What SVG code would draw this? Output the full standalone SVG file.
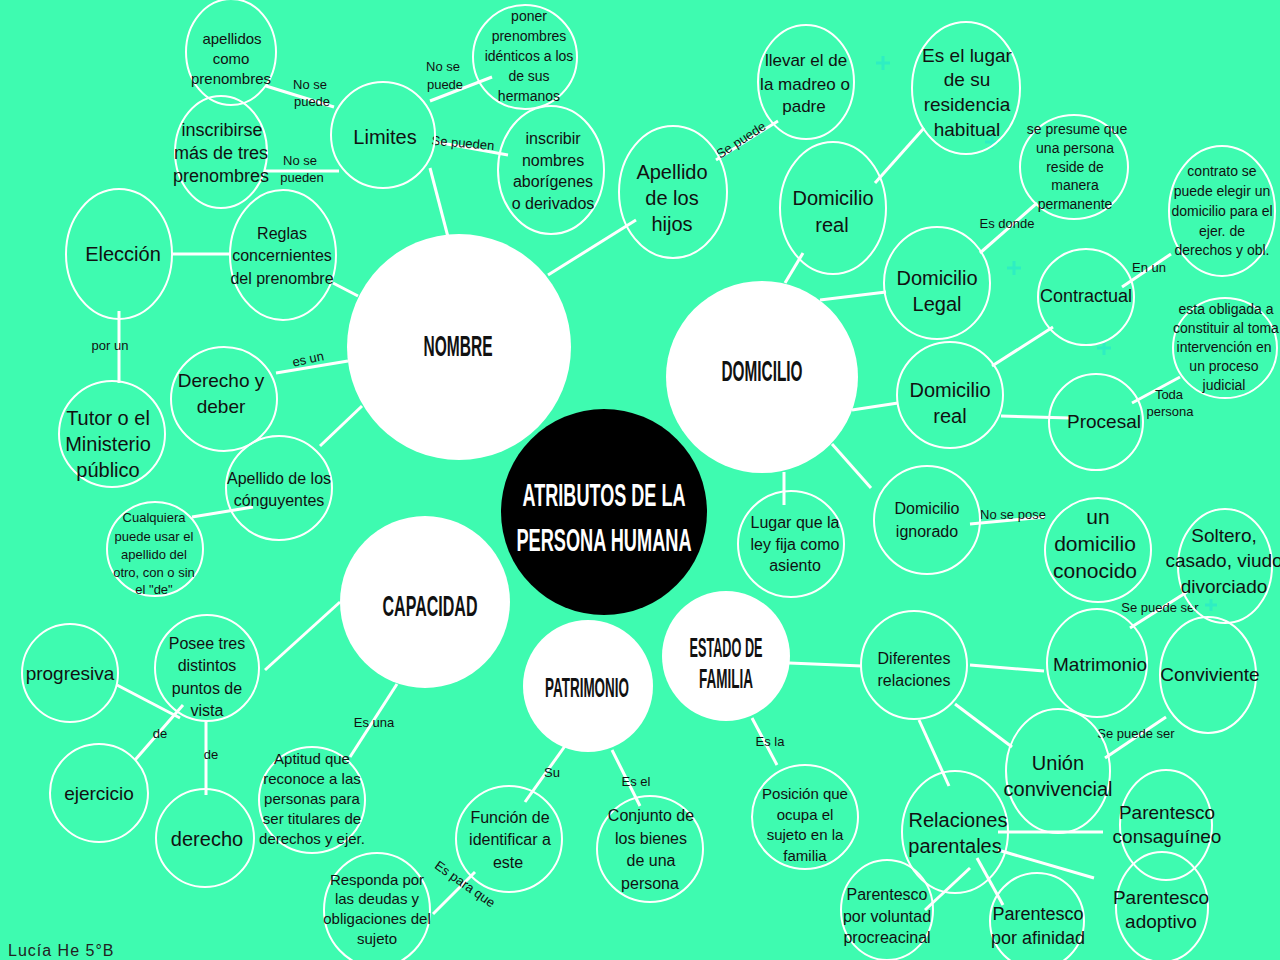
<svg xmlns="http://www.w3.org/2000/svg" width="1280" height="960" viewBox="0 0 1280 960">
<style>
.n{fill:none;stroke:#fff;stroke-width:2}
.w{fill:#fff}
.k{fill:#000}
#connectors line{stroke:#fff;stroke-width:3;stroke-linecap:butt}
text{font-family:"Liberation Sans",Arial,sans-serif;fill:#111;text-anchor:middle;dominant-baseline:central}
.h{font-family:"Liberation Sans Narrow","Liberation Sans",Arial,sans-serif;font-weight:bold;dominant-baseline:alphabetic}
.l{font-size:13px}
.p{stroke:#2eeec2;stroke-width:3}
</style>
<rect width="1280" height="960" fill="#3efbb0"/>
<g id="connectors">
<line x1="448" y1="237" x2="430" y2="168"/>
<line x1="548" y1="275" x2="636" y2="220"/>
<line x1="358" y1="296" x2="333" y2="283"/>
<line x1="348" y1="361" x2="276" y2="373"/>
<line x1="362" y1="406" x2="320" y2="446"/>
<line x1="266" y1="86" x2="334" y2="107"/>
<line x1="430" y1="101" x2="492" y2="77"/>
<line x1="265" y1="171" x2="339" y2="171"/>
<line x1="436" y1="142" x2="508" y2="155"/>
<line x1="171" y1="254" x2="230" y2="254"/>
<line x1="119" y1="311" x2="119" y2="383"/>
<line x1="192" y1="517" x2="253" y2="507"/>
<line x1="716" y1="160" x2="778" y2="121"/>
<line x1="785" y1="283" x2="803" y2="253"/>
<line x1="875" y1="183" x2="924" y2="128"/>
<line x1="820" y1="300" x2="886" y2="292"/>
<line x1="980" y1="253" x2="1037" y2="203"/>
<line x1="852" y1="410" x2="898" y2="403"/>
<line x1="992" y1="366" x2="1053" y2="327"/>
<line x1="1001" y1="416" x2="1070" y2="418"/>
<line x1="1122" y1="287" x2="1171" y2="254"/>
<line x1="1132" y1="403" x2="1180" y2="377"/>
<line x1="832" y1="444" x2="871" y2="488"/>
<line x1="784" y1="472" x2="784" y2="505"/>
<line x1="970" y1="524" x2="1045" y2="517"/>
<line x1="789" y1="663" x2="862" y2="666"/>
<line x1="752" y1="718" x2="777" y2="765"/>
<line x1="970" y1="665" x2="1044" y2="671"/>
<line x1="955" y1="704" x2="1012" y2="747"/>
<line x1="919" y1="720" x2="949" y2="786"/>
<line x1="1130" y1="628" x2="1187" y2="592"/>
<line x1="1105" y1="758" x2="1166" y2="717"/>
<line x1="998" y1="832" x2="1103" y2="832"/>
<line x1="998" y1="850" x2="1094" y2="878"/>
<line x1="970" y1="868" x2="925" y2="910"/>
<line x1="977" y1="858" x2="1003" y2="905"/>
<line x1="565" y1="746" x2="525" y2="802"/>
<line x1="612" y1="750" x2="640" y2="806"/>
<line x1="475" y1="872" x2="433" y2="914"/>
<line x1="340" y1="602" x2="265" y2="670"/>
<line x1="397" y1="684" x2="350" y2="757"/>
<line x1="117" y1="685" x2="180" y2="718"/>
<line x1="135" y1="760" x2="183" y2="705"/>
<line x1="206" y1="721" x2="206" y2="795"/>
</g>
<g id="edge-labels" class="l">
<text x="310" y="84">No se</text><text x="312" y="101">puede</text>
<text x="443" y="66">No se</text><text x="445" y="84">puede</text>
<text x="300" y="160">No se</text><text x="302" y="177">pueden</text>
<text x="463" y="143" transform="rotate(5 463 143)">Se pueden</text>
<text x="110" y="345">por un</text>
<text x="308" y="359" transform="rotate(-12 308 359)">es un</text>
<text x="741" y="140" transform="rotate(-33 741 140)">Se puede</text>
<text x="1007" y="223">Es donde</text>
<text x="1149" y="267">En un</text>
<text x="1169" y="394">Toda</text><text x="1170" y="411">persona</text>
<text x="1013" y="514">No se pose</text>
<text x="1160" y="607">Se puede ser</text>
<text x="1136" y="733">Se puede ser</text>
<text x="770" y="741">Es la</text>
<text x="374" y="722">Es una</text>
<text x="552" y="772">Su</text>
<text x="636" y="781">Es el</text>
<text x="465" y="884" transform="rotate(35 465 884)">Es para que</text>
<text x="160" y="733">de</text>
<text x="211" y="754">de</text>
</g>
<g id="plus-marks">
<path class="p" d="M876 63h14M883 56v14M985 142h14M992 135v14M1007 268h14M1014 261v14M1097 348h14M1104 341v14M1205 605h12M1211 599v12"/>
</g>
<g id="center"><ellipse class="k" cx="604" cy="512" rx="103" ry="103"/>
<text class="h" x="604" y="506" font-size="32" style="fill:#fff" textLength="163" lengthAdjust="spacingAndGlyphs">ATRIBUTOS DE LA</text>
<text class="h" x="604" y="551" font-size="32" style="fill:#fff" textLength="175" lengthAdjust="spacingAndGlyphs">PERSONA HUMANA</text></g>
<g id="nombre"><ellipse class="w" cx="459" cy="347" rx="112" ry="113"/><text class="h" x="458" y="356" font-size="30" textLength="69" lengthAdjust="spacingAndGlyphs">NOMBRE</text></g>
<g id="domicilio"><ellipse class="w" cx="762" cy="377" rx="96" ry="96"/><text class="h" x="762" y="381" font-size="30" textLength="81" lengthAdjust="spacingAndGlyphs">DOMICILIO</text></g>
<g id="capacidad"><ellipse class="w" cx="425" cy="602" rx="85" ry="86"/><text class="h" x="430" y="616" font-size="30" textLength="95" lengthAdjust="spacingAndGlyphs">CAPACIDAD</text></g>
<g id="patrimonio"><ellipse class="w" cx="588" cy="686" rx="65" ry="66"/><text class="h" x="587" y="697" font-size="27" textLength="84" lengthAdjust="spacingAndGlyphs">PATRIMONIO</text></g>
<g id="estado"><ellipse class="w" cx="726" cy="656" rx="64" ry="65"/><text class="h" x="726" y="657" font-size="27" textLength="73" lengthAdjust="spacingAndGlyphs">ESTADO DE</text><text class="h" x="726" y="688" font-size="27" textLength="54" lengthAdjust="spacingAndGlyphs">FAMILIA</text></g>

<g id="apellidos-como"><ellipse class="n" cx="231" cy="52" rx="45" ry="53"/><text font-size="15"><tspan x="232" y="38">apellidos</tspan><tspan x="231" y="58">como</tspan><tspan x="231" y="78">prenombres</tspan></text></g>
<g id="poner"><ellipse class="n" cx="525" cy="57" rx="52" ry="52"/><text font-size="14"><tspan x="529" y="16">poner</tspan><tspan x="529" y="36">prenombres</tspan><tspan x="529" y="56">idénticos a los</tspan><tspan x="529" y="76">de sus</tspan><tspan x="529" y="96">hermanos</tspan></text></g>
<g id="limites"><ellipse class="n" cx="383" cy="135" rx="52" ry="53"/><text font-size="20" x="385" y="137">Limites</text></g>
<g id="inscribirse"><ellipse class="n" cx="221" cy="152" rx="46" ry="56"/><text font-size="18"><tspan x="222" y="130">inscribirse</tspan><tspan x="221" y="153">más de tres</tspan><tspan x="221" y="176">prenombres</tspan></text></g>
<g id="inscribir"><ellipse class="n" cx="551" cy="170" rx="53" ry="64"/><text font-size="16"><tspan x="553" y="138">inscribir</tspan><tspan x="553" y="160">nombres</tspan><tspan x="553" y="181">aborígenes</tspan><tspan x="553" y="203">o derivados</tspan></text></g>
<g id="eleccion"><ellipse class="n" cx="119" cy="254" rx="53" ry="65"/><text font-size="20" x="123" y="254">Elección</text></g>
<g id="reglas"><ellipse class="n" cx="283" cy="255" rx="53" ry="65"/><text font-size="16"><tspan x="282" y="233">Reglas</tspan><tspan x="282" y="255">concernientes</tspan><tspan x="282" y="278">del prenombre</tspan></text></g>
<g id="apellido-hijos"><ellipse class="n" cx="673" cy="192" rx="54" ry="66"/><text font-size="20"><tspan x="672" y="172">Apellido</tspan><tspan x="672" y="198">de los</tspan><tspan x="672" y="224">hijos</tspan></text></g>
<g id="llevar"><ellipse class="n" cx="806" cy="82" rx="48" ry="57"/><text font-size="17"><tspan x="806" y="60">llevar el de</tspan><tspan x="805" y="84">la madreo o</tspan><tspan x="804" y="106">padre</tspan></text></g>
<g id="es-el-lugar"><ellipse class="n" cx="966" cy="88" rx="54" ry="66"/><text font-size="19"><tspan x="967" y="55">Es el lugar</tspan><tspan x="967" y="79">de su</tspan><tspan x="967" y="104">residencia</tspan><tspan x="967" y="129">habitual</tspan></text></g>
<g id="domicilio-real-1"><ellipse class="n" cx="833" cy="208" rx="53" ry="66"/><text font-size="20"><tspan x="833" y="198">Domicilio</tspan><tspan x="832" y="225">real</tspan></text></g>
<g id="se-presume"><ellipse class="n" cx="1074" cy="167" rx="54" ry="52"/><text font-size="14"><tspan x="1077" y="129">se presume que</tspan><tspan x="1075" y="148">una persona</tspan><tspan x="1075" y="167">reside de</tspan><tspan x="1075" y="185">manera</tspan><tspan x="1075" y="204">permanente</tspan></text></g>
<g id="domicilio-legal"><ellipse class="n" cx="937" cy="283" rx="53" ry="56"/><text font-size="20"><tspan x="937" y="278">Domicilio</tspan><tspan x="937" y="304">Legal</tspan></text></g>
<g id="contrato"><ellipse class="n" cx="1222" cy="211" rx="53" ry="65"/><text font-size="14"><tspan x="1222" y="171">contrato se</tspan><tspan x="1222" y="191">puede elegir un</tspan><tspan x="1222" y="211">domicilio para el</tspan><tspan x="1222" y="231">ejer. de</tspan><tspan x="1222" y="250">derechos y obl.</tspan></text></g>
<g id="contractual"><ellipse class="n" cx="1086" cy="297" rx="48" ry="48"/><text font-size="18" x="1086" y="296">Contractual</text></g>
<g id="esta-obligada"><ellipse class="n" cx="1225" cy="348" rx="52" ry="50"/><text font-size="14"><tspan x="1226" y="309">esta obligada a</tspan><tspan x="1226" y="328">constituir al toma</tspan><tspan x="1224" y="347">intervención en</tspan><tspan x="1224" y="366">un proceso</tspan><tspan x="1224" y="385">judicial</tspan></text></g>
<g id="domicilio-real-2"><ellipse class="n" cx="950" cy="395" rx="53" ry="53"/><text font-size="20"><tspan x="950" y="390">Domicilio</tspan><tspan x="950" y="416">real</tspan></text></g>
<g id="procesal"><ellipse class="n" cx="1096" cy="422" rx="47" ry="48"/><text font-size="19" x="1104" y="421">Procesal</text></g>
<g id="domicilio-ignorado"><ellipse class="n" cx="927" cy="520" rx="53" ry="54"/><text font-size="16"><tspan x="927" y="508">Domicilio</tspan><tspan x="927" y="531">ignorado</tspan></text></g>
<g id="un-domicilio"><ellipse class="n" cx="1098" cy="550" rx="53" ry="52"/><text font-size="21"><tspan x="1098" y="516">un</tspan><tspan x="1095" y="543">domicilio</tspan><tspan x="1095" y="570">conocido</tspan></text></g>
<g id="lugar"><ellipse class="n" cx="791" cy="544" rx="53" ry="53"/><text font-size="16"><tspan x="795" y="522">Lugar que la</tspan><tspan x="795" y="544">ley fija como</tspan><tspan x="795" y="565">asiento</tspan></text></g>
<g id="soltero"><ellipse class="n" cx="1225" cy="566" rx="47" ry="57"/><text font-size="19"><tspan x="1224" y="535">Soltero,</tspan><tspan x="1224" y="560">casado, viudo</tspan><tspan x="1224" y="586">divorciado</tspan></text></g>
<g id="matrimonio"><ellipse class="n" cx="1097" cy="663" rx="50" ry="54"/><text font-size="19" x="1100" y="664">Matrimonio</text></g>
<g id="conviviente"><ellipse class="n" cx="1208" cy="675" rx="48" ry="58"/><text font-size="19" x="1210" y="674">Conviviente</text></g>
<g id="diferentes"><ellipse class="n" cx="914" cy="665" rx="53" ry="54"/><text font-size="16"><tspan x="914" y="658">Diferentes</tspan><tspan x="914" y="680">relaciones</tspan></text></g>
<g id="union"><ellipse class="n" cx="1058" cy="771" rx="52" ry="62"/><text font-size="20"><tspan x="1058" y="763">Unión</tspan><tspan x="1058" y="789">convivencial</tspan></text></g>
<g id="posicion"><ellipse class="n" cx="805" cy="817" rx="53" ry="52"/><text font-size="15"><tspan x="805" y="793">Posición que</tspan><tspan x="805" y="814">ocupa el</tspan><tspan x="805" y="834">sujeto en la</tspan><tspan x="805" y="855">familia</tspan></text></g>
<g id="relaciones-parentales"><ellipse class="n" cx="955" cy="832" rx="53" ry="61"/><text font-size="20"><tspan x="958" y="820">Relaciones</tspan><tspan x="955" y="846">parentales</tspan></text></g>
<g id="consanguineo"><ellipse class="n" cx="1166" cy="825" rx="46" ry="55"/><text font-size="19"><tspan x="1167" y="812">Parentesco</tspan><tspan x="1167" y="836">consaguíneo</tspan></text></g>
<g id="adoptivo"><ellipse class="n" cx="1162" cy="907" rx="46" ry="55"/><text font-size="19"><tspan x="1161" y="897">Parentesco</tspan><tspan x="1161" y="921">adoptivo</tspan></text></g>
<g id="voluntad"><ellipse class="n" cx="887" cy="910" rx="46" ry="50"/><text font-size="16"><tspan x="887" y="894">Parentesco</tspan><tspan x="887" y="916">por voluntad</tspan><tspan x="887" y="937">procreacinal</tspan></text></g>
<g id="afinidad"><ellipse class="n" cx="1037" cy="921" rx="47" ry="48"/><text font-size="18"><tspan x="1038" y="914">Parentesco</tspan><tspan x="1038" y="938">por afinidad</tspan></text></g>
<g id="conjunto"><ellipse class="n" cx="650" cy="849" rx="53" ry="53"/><text font-size="16"><tspan x="651" y="815">Conjunto de</tspan><tspan x="651" y="838">los bienes</tspan><tspan x="651" y="860">de una</tspan><tspan x="650" y="883">persona</tspan></text></g>
<g id="funcion"><ellipse class="n" cx="509" cy="839" rx="53" ry="53"/><text font-size="16"><tspan x="510" y="817">Función de</tspan><tspan x="510" y="839">identificar a</tspan><tspan x="508" y="862">este</tspan></text></g>
<g id="responda"><ellipse class="n" cx="377" cy="910" rx="53" ry="57"/><text font-size="15"><tspan x="377" y="879">Responda por</tspan><tspan x="377" y="898">las deudas y</tspan><tspan x="377" y="918">obligaciones del</tspan><tspan x="377" y="938">sujeto</tspan></text></g>
<g id="aptitud"><ellipse class="n" cx="312" cy="800" rx="53" ry="53"/><text font-size="15"><tspan x="312" y="758">Aptitud que</tspan><tspan x="312" y="778">reconoce a las</tspan><tspan x="312" y="798">personas para</tspan><tspan x="312" y="818">ser titulares de</tspan><tspan x="312" y="838">derechos y ejer.</tspan></text></g>
<g id="posee"><ellipse class="n" cx="207" cy="668" rx="52" ry="53"/><text font-size="16"><tspan x="207" y="643">Posee tres</tspan><tspan x="207" y="665">distintos</tspan><tspan x="207" y="688">puntos de</tspan><tspan x="207" y="710">vista</tspan></text></g>
<g id="progresiva"><ellipse class="n" cx="70" cy="673" rx="48" ry="49"/><text font-size="19" x="70" y="673">progresiva</text></g>
<g id="ejercicio"><ellipse class="n" cx="99" cy="793" rx="49" ry="49"/><text font-size="19" x="99" y="793">ejercicio</text></g>
<g id="derecho"><ellipse class="n" cx="205" cy="838" rx="49" ry="49"/><text font-size="20" x="207" y="839">derecho</text></g>
<g id="derecho-deber"><ellipse class="n" cx="224" cy="399" rx="53" ry="52"/><text font-size="19"><tspan x="221" y="380">Derecho y</tspan><tspan x="221" y="406">deber</tspan></text></g>
<g id="tutor"><ellipse class="n" cx="112" cy="434" rx="53" ry="53"/><text font-size="20"><tspan x="108" y="418">Tutor o el</tspan><tspan x="108" y="444">Ministerio</tspan><tspan x="108" y="470">público</tspan></text></g>
<g id="apellido-conyuges"><ellipse class="n" cx="279" cy="488" rx="53" ry="52"/><text font-size="16"><tspan x="279" y="478">Apellido de los</tspan><tspan x="279" y="500">cónguyentes</tspan></text></g>
<g id="cualquiera"><ellipse class="n" cx="155" cy="549" rx="48" ry="47"/><text font-size="13"><tspan x="154" y="517">Cualquiera</tspan><tspan x="154" y="536">puede usar el</tspan><tspan x="154" y="554">apellido del</tspan><tspan x="154" y="572">otro, con o sin</tspan><tspan x="154" y="589">el "de"</tspan></text></g>
<text x="8" y="950" font-size="16" style="text-anchor:start;letter-spacing:1px;fill:#222">Lucía He 5°B</text>
</svg>
